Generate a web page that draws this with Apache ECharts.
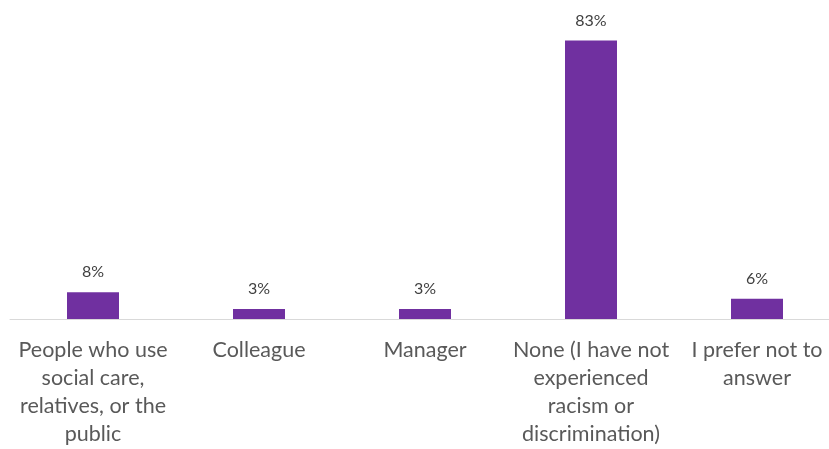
<!DOCTYPE html>
<html>
<head>
<meta charset="utf-8">
<script src="https://cdn.jsdelivr.net/npm/echarts@6/dist/echarts.min.js"></script>
<style>
  html, body { margin: 0; padding: 0; background: #ffffff; overflow: hidden; }
  #wrap { width: 829px; height: 449px; overflow: hidden; }
  #chart { width: 840px; height: 449px; }
</style>
</head>
<body>
<div id="wrap"><div id="chart"></div></div>
<script>
// Where racism or discrimination was experienced from
const categories = [
  'People who use\nsocial care,\nrelatives, or the\npublic',
  'Colleague',
  'Manager',
  'None (I have not\nexperienced\nracism or\ndiscrimination)',
  'I prefer not to\nanswer'
];
const percentages = [8, 3, 3, 83, 6];

const chart = echarts.init(document.getElementById('chart'), null, { renderer: 'canvas' });

chart.setOption({
  animation: false,
  backgroundColor: '#ffffff',
  grid: { left: 10, right: 0, top: 17, bottom: 130, containLabel: false },
  xAxis: {
    type: 'category',
    data: categories,
    axisLine: { show: true, lineStyle: { color: '#d9d9d9', width: 1 } },
    axisTick: { show: false },
    axisLabel: {
      interval: 0,
      margin: 17,
      color: '#595959',
      fontFamily: 'Lato, "Open Sans", sans-serif',
      fontSize: 21.5,
      lineHeight: 28
    }
  },
  yAxis: {
    type: 'value',
    min: 0,
    max: 90,
    show: false,
    splitLine: { show: false }
  },
  series: [{
    type: 'bar',
    data: percentages,
    barWidth: 52,
    itemStyle: { color: '#7030a0' },
    label: {
      show: true,
      position: 'top',
      distance: 12,
      formatter: p => p.value + '%',
      color: '#404040',
      fontFamily: 'Lato, "Open Sans", sans-serif',
      fontSize: 16
    }
  }]
});
</script>
</body>
</html>
